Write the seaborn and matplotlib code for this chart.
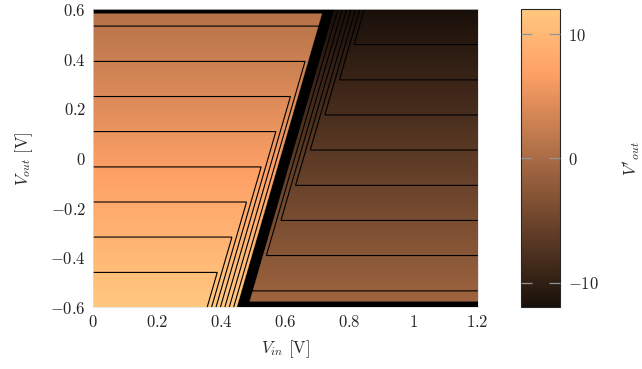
import numpy as np
import matplotlib
matplotlib.use("Agg")
import matplotlib.pyplot as plt
import seaborn as sns
from matplotlib.colors import Normalize, ListedColormap
from matplotlib.cm import ScalarMappable
from matplotlib.ticker import FixedLocator, FuncFormatter

# ---------------------------
# Values
# ---------------------------

vout_edges = [-0.6, 0.6]        # V_out at bottom / top of the plot
left_vals = [12.0, 0.7]         # V'_out left of the switching line
right_vals = [-0.7, -12.0]      # V'_out right of the switching line
switch_vin = [0.466, 0.736]     # V_in of the switching line (bottom / top)
fan_halfwidth = 0.124           # contour fan either side of the switch
band_halfwidth = 0.017          # black switching band
edge_band = 0.022               # black strip top-left / bottom-right

line_levels = [-10.67, -9.33, -8.0, -6.67, -5.33, -4.0, -2.67, -1.33, 0.0,
               1.33, 2.67, 4.0, 5.33, 6.67, 8.0, 9.33, 10.67]
cbar_ticks = [-10, 0, 10]
x_ticks = [0, 0.2, 0.4, 0.6, 0.8, 1.0, 1.2]
y_ticks = [-0.6, -0.4, -0.2, 0, 0.2, 0.4, 0.6]
vmin, vmax = -12, 12

# ---------------------------
# Style
# ---------------------------

sns.set_style("white")
plt.rcParams["font.family"] = ["cmr10", "DejaVu Serif"]
plt.rcParams["mathtext.fontset"] = "cm"
plt.rcParams["axes.formatter.use_mathtext"] = True
plt.rcParams["font.size"] = 12

# copper, but the darkest end is a very dark brown rather than pure black
base = np.array(sns.color_palette("copper", 256))
t = np.linspace(0, 1, 256)[:, None]
floor = np.array(sns.color_palette("copper", 256)[20])
cmap = ListedColormap(np.clip(base + floor * (1 - t), 0, 1))
cmap.set_under("black")

# ---------------------------
# Build the field
# ---------------------------

vin = np.linspace(0, 1.2, 1201)
vout = np.linspace(-0.6, 0.6, 601)
X, Y = np.meshgrid(vin, vout)

left = np.interp(Y, vout_edges, left_vals)
right = np.interp(Y, vout_edges, right_vals)
s = X - np.interp(Y, vout_edges, switch_vin)

fan = -12 * s / fan_halfwidth
f_lines = np.minimum(left, np.maximum(right, fan))

f_fill = np.where(s < 0, left, right)
black = (np.abs(s) < band_halfwidth) \
    | ((s < 0) & (Y > vout_edges[1] - edge_band)) \
    | ((s > 0) & (Y < vout_edges[0] + edge_band))
f_fill = np.where(black, vmin - 1, f_fill)

# ---------------------------
# Plot
# ---------------------------

fig = plt.figure(figsize=(6.42, 3.69), dpi=100)
ax = fig.add_axes([0.1449, 0.1667, 0.5992, 0.8076])

ax.imshow(
    f_fill,
    extent=[vin[0], vin[-1], vout[0], vout[-1]],
    origin="lower",
    aspect="auto",
    cmap=cmap,
    vmin=vmin,
    vmax=vmax,
    interpolation="bilinear"
)
ax.contour(X, Y, f_lines, levels=line_levels, colors="black",
           linewidths=0.8, linestyles="solid")

ax.set_xlim(0, 1.2)
ax.set_ylim(-0.6, 0.6)
ax.xaxis.set_major_locator(FixedLocator(x_ticks))
ax.yaxis.set_major_locator(FixedLocator(y_ticks))
fmt = FuncFormatter(lambda v, _: "$%g$" % round(v, 2))
ax.xaxis.set_major_formatter(fmt)
ax.yaxis.set_major_formatter(fmt)
ax.tick_params(length=0, pad=5)
for sp in ax.spines.values():
    sp.set_color("#dddddd")
    sp.set_linewidth(0.5)

ax.set_xlabel(r"$V_{in}$ [V]", labelpad=6)
ax.set_ylabel(r"$V_{out}$ [V]", labelpad=11)

cax = fig.add_axes([0.8115, 0.1667, 0.0607, 0.8076])
cb = fig.colorbar(ScalarMappable(norm=Normalize(vmin, vmax), cmap=cmap), cax=cax)
cb.ax.set_axisbelow(False)
cb.set_ticks(cbar_ticks)
cb.ax.yaxis.set_major_formatter(FuncFormatter(lambda v, _: "$%g$" % v))
cb.ax.tick_params(direction="in", left=True, right=True, length=8,
                  width=0.9, color="#8f949a", pad=6)
cb.outline.set_linewidth(0.8)
cb.set_label(r"$V'_{out}$", labelpad=16)

fig.savefig("out.png", dpi=100)
